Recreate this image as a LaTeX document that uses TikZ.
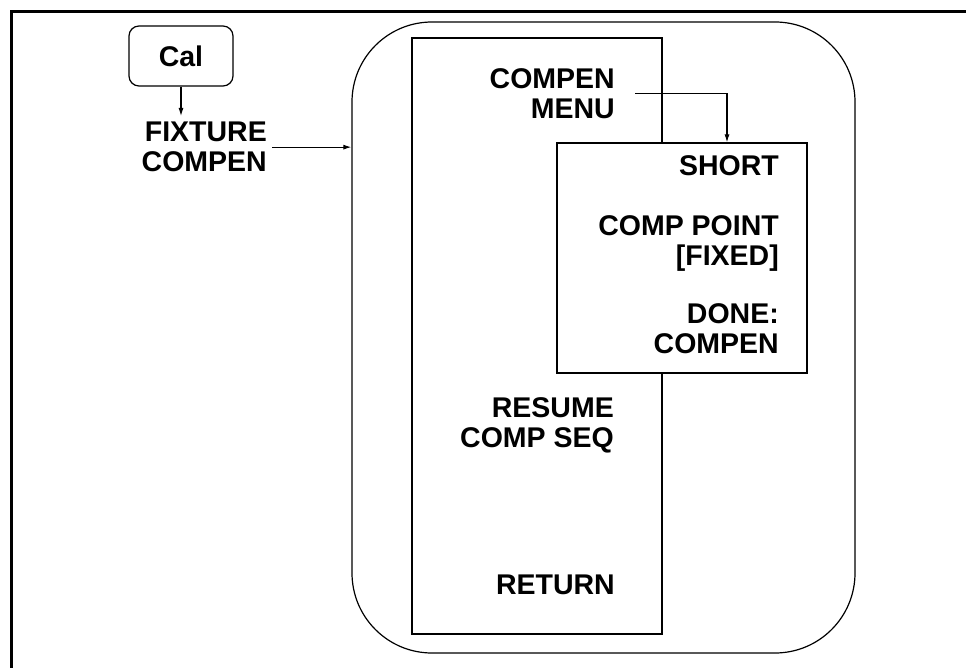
\documentclass[tikz,border=0pt]{standalone}
\usepackage{fontspec}
\setmainfont{Liberation Sans}
\usetikzlibrary{arrows.meta,positioning}

\begin{document}
\begin{tikzpicture}[x=1pt,y=-1pt,>={Latex[length=8pt,width=5pt]},
 lbl/.style={font=\fontsize{28.5}{30}\selectfont\bfseries,align=right,inner sep=0pt,anchor=north east},
 panel/.style={draw,line width=1.2pt,fill=white,inner sep=0pt},
 a/.style={->,line width=1.1pt}]
\useasboundingbox (0,0) rectangle (966,668);
% frame
\draw[line width=3pt] (11,668) -- (11,12) -- (966,12);
% key and softkey menus
\node[panel,rounded corners=10pt,minimum width=104pt,minimum height=60pt,font=\fontsize{28.5}{30}\selectfont\bfseries] (cal) at (181,56) {Cal};
\node[lbl] (fix) at (267,122) {FIXTURE\\COMPEN};
\node[panel,rounded corners=80pt,minimum width=503pt,minimum height=631pt] (outer) at (603.5,337.5) {};
\node[panel,minimum width=250pt,minimum height=596pt] (menu) at (537,336) {};
\node[panel,minimum width=250pt,minimum height=230pt] (sub) at (682,258) {};
\node[lbl] (compen) at (615,68) {COMPEN\\MENU};
\node[lbl] (resume) at (614,397) {RESUME\\COMP SEQ};
\node[lbl] (ret) at (615,575) {RETURN};
\node[lbl] (short) at (779,155) {SHORT};
\node[lbl] (point) at (779,215) {COMP POINT\\{[FIXED]}};
\node[lbl] (done) at (779,303) {DONE:\\COMPEN};
\draw[a,shorten >=6pt] (cal.south) -- (cal.south |- fix.north);
\draw[a] ([xshift=5pt]fix.east) -- (fix.east -| outer.west);
\draw[a] ([xshift=20pt]compen.east) -| ([xshift=45pt]sub.north);
\end{tikzpicture}
\end{document}
